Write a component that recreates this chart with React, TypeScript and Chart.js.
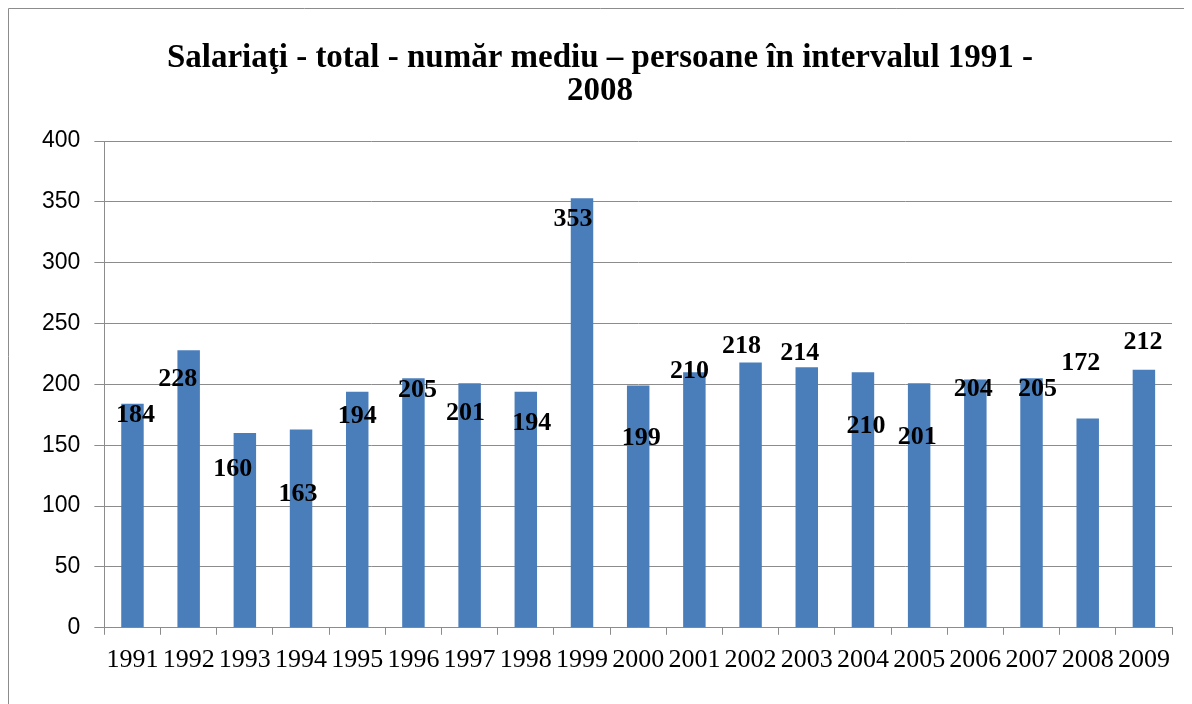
import React, { useEffect, useRef } from "react";
import { Chart, registerables } from "chart.js";

Chart.register(...registerables);

const years = ["1991","1992","1993","1994","1995","1996","1997","1998","1999","2000","2001","2002","2003","2004","2005","2006","2007","2008","2009"];
const employees = [184,228,160,163,194,205,201,194,353,199,210,218,214,210,201,204,205,172,212];
const titleLines = ["Salariaţi - total - număr mediu – persoane în intervalul 1991 -", "2008"];
// label nudges in pixels relative to bar top-center (style, not data)
const labelNudgeX = [3,-11,-12,-3,0,4,-4,6,-9,3,-5,-9,-7,3,-2,-2,6,-7,-1];
const labelNudgeY = [11,29,36,65,25,12,30,32,21,53,-1,-16,-14,54,54,10,11,-55,-28];

const labelPlugin = {
  id: "barLabels",
  afterDatasetsDraw(chart: any) {
    const ctx = chart.ctx;
    const meta = chart.getDatasetMeta(0);
    ctx.save();
    ctx.font = "bold 26px 'Liberation Serif'";
    ctx.fillStyle = "#000";
    ctx.textAlign = "center";
    ctx.textBaseline = "middle";
    meta.data.forEach((el: any, i: number) => {
      ctx.fillText(String(employees[i]), el.x + labelNudgeX[i], el.y + labelNudgeY[i]);
    });
    ctx.restore();
  },
};

const framePlugin = {
  id: "frame",
  beforeDraw(chart: any) {
    const ctx = chart.ctx;
    ctx.save();
    ctx.fillStyle = "#fff";
    ctx.fillRect(0, 0, chart.width, chart.height);
    ctx.strokeStyle = "#8c8c8c";
    ctx.lineWidth = 1;
    ctx.beginPath();
    ctx.moveTo(0.5, chart.height);
    ctx.lineTo(0.5, 0.5);
    ctx.lineTo(chart.width, 0.5);
    ctx.stroke();
    ctx.restore();
  },
};

export default function App() {
  const ref = useRef<HTMLCanvasElement | null>(null);
  useEffect(() => {
    if (!ref.current) return;
    const chart = new Chart(ref.current, {
      type: "bar",
      data: {
        labels: years,
        datasets: [
          {
            data: employees,
            backgroundColor: "#4a7ebb",
            categoryPercentage: 1,
            barPercentage: 0.4,
          },
        ],
      },
      options: {
        animation: false,
        responsive: false,
        layout: { padding: { left: 20, right: 20, top: 20, bottom: 18 } },
        plugins: {
          legend: { display: false },
          tooltip: { enabled: false },
          title: {
            display: true,
            text: titleLines,
            color: "#000",
            font: { family: "'Liberation Serif'", size: 33, weight: "bold", lineHeight: 1.0 },
            padding: { top: 14, bottom: 33 },
          },
        },
        scales: {
          x: {
            grid: {
              display: true,
              drawOnChartArea: false,
              drawTicks: true,
              tickLength: 7,
              color: "#8c8c8c",
              offset: true,
            },
            border: { color: "#8c8c8c" },
            ticks: {
              color: "#000",
              font: { family: "'Liberation Serif'", size: 26 },
              maxRotation: 0,
              autoSkip: false,
              padding: 10,
            },
          },
          y: {
            min: 0,
            max: 400,
            ticks: {
              stepSize: 50,
              color: "#000",
              font: { family: "'Liberation Sans'", size: 23 },
              padding: 14,
            },
            grid: { color: "#8c8c8c", tickLength: 10 },
            border: { color: "#8c8c8c" },
          },
        },
      },
      plugins: [framePlugin, labelPlugin],
    });
    return () => chart.destroy();
  }, []);
  return <canvas ref={ref} width={1184} height={696} style={{ display: "block" }} />;
}
